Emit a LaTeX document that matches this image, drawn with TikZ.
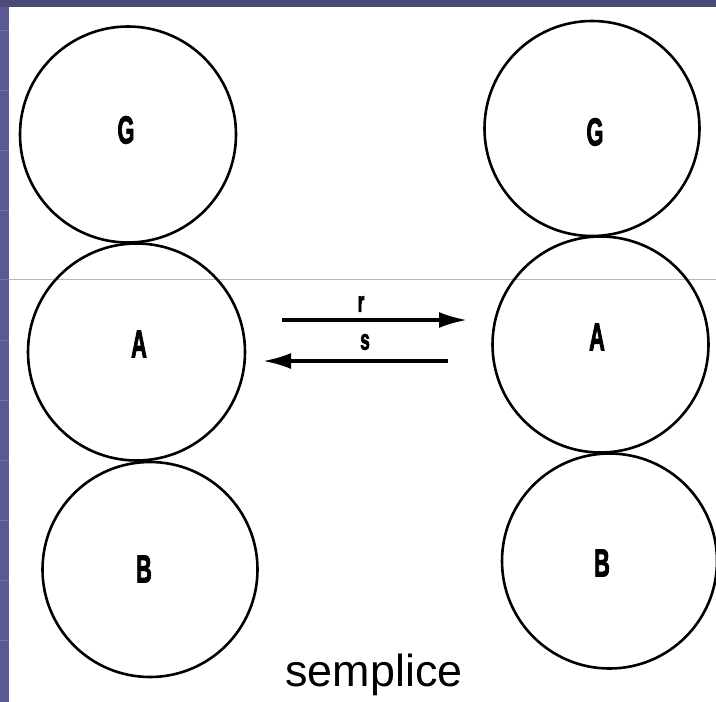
\documentclass[tikz,border=0pt]{standalone}
\usepackage{fontspec}
\setmainfont{Liberation Sans}
\newfontfamily\labfont{Liberation Sans Bold}[FakeBold=3]
\usetikzlibrary{arrows.meta}
\definecolor{bandtop}{HTML}{4B4A7A}
\definecolor{bandleft}{HTML}{5A5A92}
\definecolor{bandline}{HTML}{7474A8}
\definecolor{rule}{HTML}{B6B4CE}
\tikzset{
  ball/.style={circle, draw=black, line width=2.6bp, minimum size=#1, inner sep=0pt},
  lab/.style={font=\fontsize{39}{39}\labfont, xscale=0.56, inner sep=0pt},
  arrlab/.style={font=\fontsize{29}{29}\labfont, xscale=0.6, inner sep=0pt},
  arr/.style={line width=3.2bp, -{Latex[length=28bp,width=16bp]}}
}
\begin{document}
\begin{tikzpicture}[x=1bp,y=-1bp]
\useasboundingbox (0,0) rectangle (716,702);
\fill[white] (0,0) rectangle (716,702);
% frame bands
\fill[bandleft] (0,0) rectangle (9,702);
\fill[bandtop] (0,0) rectangle (716,7);
\foreach \yy in {30,90,150,210,279,340,400,460,520,580,640} {
  \draw[bandline, line width=0.8bp] (0,\yy) -- (9,\yy);
}
% faint horizontal rule
\draw[rule, line width=1bp] (9,279) -- (716,279);
% left column
\node[ball=216bp] (LG) at (128,134.5) {};
\node[ball=217bp] (LA) at (136.5,352) {};
\node[ball=215bp] (LB) at (150,569.5) {};
% right column
\node[ball=215bp] (RG) at (592,128.5) {};
\node[ball=216bp] (RA) at (600.5,344.5) {};
\node[ball=215bp] (RB) at (609.5,561) {};
% labels
\node[lab] (tLG) at (126,130) {G};
\node[lab] (tLA) at (139,344) {A};
\node[lab] (tLB) at (144,569) {B};
\node[lab] (tRG) at (595,132) {G};
\node[lab] (tRA) at (597,337) {A};
\node[lab] (tRB) at (602,563) {B};
% arrows
\coordinate (r1) at (282,320);
\coordinate (r2) at (467,320);
\coordinate (s1) at (448,361);
\coordinate (s2) at (263,361);
\draw[arr] (r1) -- (r2);
\draw[arr] (s1) -- (s2);
\node[arrlab] (tr) at (361,304) {r};
\node[arrlab] (ts) at (365,342) {s};
% caption
\node[font=\fontsize{45}{45}\selectfont, inner sep=0pt, anchor=base] (cap) at (374,686) {semplice};
\end{tikzpicture}
\end{document}
